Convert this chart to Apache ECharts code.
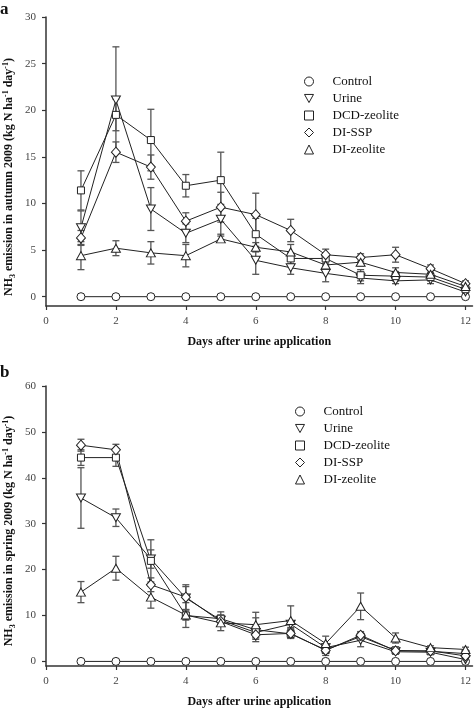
<!DOCTYPE html>
<html>
<head>
<meta charset="utf-8">
<script src="https://cdn.jsdelivr.net/npm/echarts@6/dist/echarts.min.js"></script>
<style>html,body{margin:0;padding:0;background:#fff}#c{width:474px;height:709px}</style>
</head>
<body>
<div id="c"></div>
<script>
// ---------- data ----------
var days = [1, 2, 3, 4, 5, 6, 7, 8, 9, 10, 11, 12];
var treatments = ['Control', 'Urine', 'DCD-zeolite', 'DI-SSP', 'DI-zeolite'];
var xTicks = [0, 2, 4, 6, 8, 10, 12];
var aYTicks = [0, 5, 10, 15, 20, 25, 30];
var bYTicks = [0, 10, 20, 30, 40, 50, 60];

// (a) autumn 2009
var aControl = [0, 0, 0, 0, 0, 0, 0, 0, 0, 0, 0, 0];
var aUrine   = [7.4, 21.1, 9.4, 6.8, 8.3, 3.9, 3.1, 2.5, 2.0, 1.7, 1.8, 0.5];
var aDCD     = [11.4, 19.5, 16.8, 11.9, 12.5, 6.7, 4.1, 4.1, 2.3, 2.2, 2.1, 0.8];
var aSSP     = [6.3, 15.5, 13.9, 8.1, 9.6, 8.8, 7.1, 4.5, 4.2, 4.5, 3.0, 1.4];
var aDIZ     = [4.4, 5.2, 4.7, 4.4, 6.2, 5.3, 4.8, 3.4, 3.7, 2.6, 2.4, 1.1];
var aControlErr = [0, 0, 0, 0, 0, 0, 0, 0, 0, 0, 0, 0];
var aUrineErr   = [1.8, 5.7, 2.3, 1.0, 1.6, 1.5, 0.7, 0.9, 0.6, 0.3, 0.4, 0.2];
var aDCDErr     = [2.1, 1.7, 3.3, 1.2, 3.0, 1.7, 0.6, 0.5, 0.6, 0.5, 0.4, 0.3];
var aSSPErr     = [0.8, 1.1, 1.3, 0.9, 1.6, 2.3, 1.2, 0.6, 0.4, 0.8, 0.4, 0.3];
var aDIZErr     = [1.5, 0.8, 1.2, 1.2, 0.3, 0.5, 0.8, 0.5, 0.4, 0.5, 0.4, 0.3];

// (b) spring 2009
var bControl = [0, 0, 0, 0, 0, 0, 0, 0, 0, 0, 0, 0];
var bUrine   = [35.6, 31.3, 22.3, 13.8, 9.0, 6.3, 8.1, 3.0, 4.6, 2.1, 2.0, 0.4];
var bDCD     = [44.4, 44.4, 21.9, 10.0, 9.3, 6.9, 6.0, 2.5, 5.4, 2.4, 2.2, 1.7];
var bSSP     = [47.1, 46.1, 16.7, 14.0, 8.7, 5.8, 6.1, 2.4, 5.7, 2.3, 2.3, 1.2];
var bDIZ     = [15.1, 20.3, 14.0, 10.1, 8.4, 8.0, 8.9, 3.9, 12.0, 5.1, 3.0, 2.6];
var bControlErr = [0, 0, 0, 0, 0, 0, 0, 0, 0, 0, 0, 0];
var bUrineErr   = [6.6, 1.9, 2.0, 2.5, 1.0, 1.2, 0.7, 0.8, 1.4, 0.5, 0.4, 0.3];
var bDCDErr     = [1.7, 1.9, 4.6, 1.0, 1.5, 2.6, 1.0, 1.2, 0.8, 0.7, 0.5, 0.3];
var bSSPErr     = [1.3, 1.2, 1.5, 2.7, 1.0, 1.0, 1.0, 0.5, 0.8, 0.5, 0.4, 0.3];
var bDIZErr     = [2.3, 2.6, 2.4, 2.7, 1.7, 2.7, 3.2, 1.6, 2.9, 1.1, 0.4, 0.5];

// ---------- styling ----------
var FONT = '"Liberation Serif", "DejaVu Serif", serif';
var INK = '#222';
var symbols = ['circle', 'path://M0,0L2,0L1,1.8Z', 'rect', 'diamond', 'triangle'];
var symbolSizes = [8, [9, 8], 7, [9, 10], [9, 8]];

var aMeans = [aControl, aUrine, aDCD, aSSP, aDIZ];
var aErrs = [aControlErr, aUrineErr, aDCDErr, aSSPErr, aDIZErr];
var bMeans = [bControl, bUrine, bDCD, bSSP, bDIZ];
var bErrs = [bControlErr, bUrineErr, bDCDErr, bSSPErr, bDIZErr];

function errRows(means, errs) {
  var rows = [];
  means.forEach(function (m, s) {
    m.forEach(function (v, i) {
      if (errs[s][i] > 0) rows.push([days[i], v - errs[s][i], v + errs[s][i]]);
    });
  });
  return rows;
}

function renderErr(params, api) {
  var x = api.value(0);
  var lo = api.coord([x, api.value(1)]);
  var hi = api.coord([x, api.value(2)]);
  var w = 3.5;
  var st = { stroke: '#555', lineWidth: 1.3 };
  return {
    type: 'group',
    children: [
      { type: 'line', shape: { x1: lo[0], y1: lo[1], x2: hi[0], y2: hi[1] }, style: st },
      { type: 'line', shape: { x1: hi[0] - w, y1: hi[1], x2: hi[0] + w, y2: hi[1] }, style: st },
      { type: 'line', shape: { x1: lo[0] - w, y1: lo[1], x2: lo[0] + w, y2: lo[1] }, style: st }
    ]
  };
}

function lineSeries(means, idx) {
  return means.map(function (m, s) {
    return {
      type: 'line',
      name: treatments[s],
      xAxisIndex: idx, yAxisIndex: idx,
      data: m.map(function (v, i) { return [days[i], v]; }),
      symbol: symbols[s],
      symbolSize: symbolSizes[s],
      showAllSymbol: true,
      lineStyle: { color: INK, width: 1 },
      itemStyle: { color: '#fff', borderColor: INK, borderWidth: 1 },
      z: 3,
      silent: true,
      animation: false
    };
  });
}

function xAxisCfg(idx) {
  return {
    type: 'value', gridIndex: idx, min: 0, max: 12.2,
    axisLine: { onZero: false, lineStyle: { color: '#333', width: 1.5 } },
    axisTick: { customValues: xTicks, length: 4, lineStyle: { color: '#333', width: 1.2 } },
    axisLabel: { customValues: xTicks, margin: 10, color: '#444', fontFamily: FONT, fontSize: 11 },
    splitLine: { show: false },
    name: 'Days after urine application', nameLocation: 'middle', nameGap: 30,
    nameTextStyle: { fontFamily: FONT, fontSize: 12, fontWeight: 'bold', color: '#111' }
  };
}
function yAxisCfg(idx, max, ticks) {
  return {
    type: 'value', gridIndex: idx, min: -1, max: max,
    axisLine: { show: true, onZero: false, lineStyle: { color: '#333', width: 1.5 } },
    axisTick: { show: true, customValues: ticks, length: 4, lineStyle: { color: '#333', width: 1.2 } },
    axisLabel: { customValues: ticks, margin: 10, color: '#444', fontFamily: FONT, fontSize: 11 },
    splitLine: { show: false }
  };
}

function legendCfg(left, top) {
  return {
    orient: 'vertical', left: left, top: top,
    itemWidth: 9, itemHeight: 9, itemGap: 4,
    selectedMode: false,
    itemStyle: { color: '#fff', borderColor: INK, borderWidth: 1 },
    textStyle: { fontFamily: FONT, fontSize: 13, color: '#111', lineHeight: 13, padding: [0, 0, 0, 14] },
    data: treatments.map(function (t, s) { return { name: t, icon: symbols[s] }; })
  };
}

var rich = {
  sub: { fontFamily: FONT, fontSize: 8, fontWeight: 'bold', color: '#111', padding: [7, 0, 0, 0] },
  sup: { fontFamily: FONT, fontSize: 8, fontWeight: 'bold', color: '#111', padding: [0, 0, 6, 0] }
};
function yTitle(x, y, season) {
  return {
    type: 'text', x: x, y: y, rotation: Math.PI / 2,
    style: {
      text: 'NH{sub|3} emission in ' + season + ' 2009 (kg N ha{sup|-1} day{sup|-1})',
      fontFamily: FONT, fontSize: 12, fontWeight: 'bold', fill: '#111',
      align: 'center', verticalAlign: 'middle', rich: rich
    }
  };
}

var option = {
  backgroundColor: '#fff',
  animation: false,
  grid: [
    { left: 46, top: 17, right: 1, height: 289 },
    { left: 46, top: 386, right: 1, height: 283 }
  ],
  xAxis: [xAxisCfg(0), xAxisCfg(1)],
  yAxis: [yAxisCfg(0, 30, aYTicks), yAxisCfg(1, 60, bYTicks)],
  legend: [legendCfg(299, 70), legendCfg(290, 400)],
  graphic: [
    { type: 'text', x: 0, y: 1, style: { text: 'a', fontFamily: FONT, fontSize: 17, fontWeight: 'bold', fill: '#111' } },
    { type: 'text', x: 0, y: 364, style: { text: 'b', fontFamily: FONT, fontSize: 17, fontWeight: 'bold', fill: '#111' } },
    yTitle(9, 177, 'autumn'),
    yTitle(9, 531, 'spring')
  ],
  series: [
    { type: 'custom', xAxisIndex: 0, yAxisIndex: 0, data: errRows(aMeans, aErrs), renderItem: renderErr, z: 1, silent: true },
    { type: 'custom', xAxisIndex: 1, yAxisIndex: 1, data: errRows(bMeans, bErrs), renderItem: renderErr, z: 1, silent: true }
  ].concat(lineSeries(aMeans, 0)).concat(lineSeries(bMeans, 1))
};

var chart = echarts.init(document.getElementById('c'), null, { renderer: 'canvas' });
chart.setOption(option);
</script>
</body>
</html>
